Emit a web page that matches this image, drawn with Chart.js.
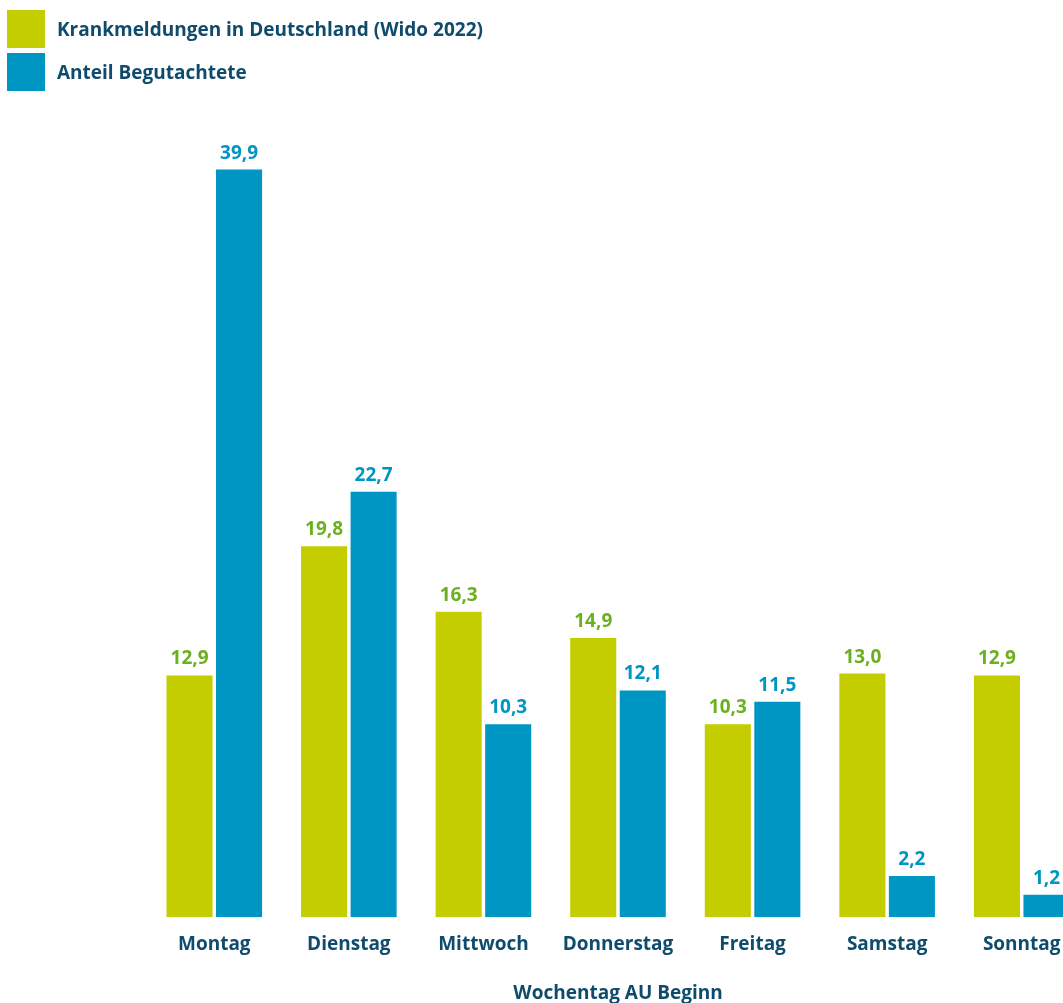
<!DOCTYPE html>
<html lang="de">
<head>
<meta charset="utf-8">
<title>Krankmeldungen nach Wochentag</title>
<script src="https://cdn.jsdelivr.net/npm/chart.js@4/dist/chart.umd.min.js"></script>
<style>
  html, body {
    margin: 0;
    padding: 0;
    background: #ffffff;
    overflow: hidden;
  }
  .wrap {
    position: relative;
    width: 1063px;
    height: 1003px;
    overflow: hidden;
  }
  #legend {
    position: absolute;
    left: 7px;
    top: 10px;
    font-family: 'Open Sans', sans-serif;
    font-weight: 700;
    font-size: 19px;
    color: #0f4b6c;
  }
  #legend .item {
    display: flex;
    align-items: center;
    height: 38px;
    margin-bottom: 5px;
  }
  #legend .swatch {
    width: 38px;
    height: 38px;
    margin-right: 12px;
  }
  #chart {
    position: absolute;
    left: 0;
    top: 0;
  }
</style>
</head>
<body>
<div class="wrap">
  <canvas id="chart" width="1089" height="1003"></canvas>
  <div id="legend"></div>
</div>
<script>
const weekdays = ['Montag', 'Dienstag', 'Mittwoch', 'Donnerstag', 'Freitag', 'Samstag', 'Sonntag'];
const krankmeldungen = [12.9, 19.8, 16.3, 14.9, 10.3, 13.0, 12.9];
const begutachtete = [39.9, 22.7, 10.3, 12.1, 11.5, 2.2, 1.2];
const seriesNames = ['Krankmeldungen in Deutschland (Wido 2022)', 'Anteil Begutachtete'];
const axisTitle = 'Wochentag AU Beginn';

const palette = {
  green: '#c3cd00',
  greenText: '#6cb01f',
  blue: '#0096c4',
  blueText: '#0096c4',
  text: '#0f4b6c',
};

const fontFamily = "'Open Sans', sans-serif";
const deFormatter = new Intl.NumberFormat('de-DE', { minimumFractionDigits: 1, maximumFractionDigits: 1 });

// value above each bar, in the series' text colour
const barValueLabels = {
  id: 'barValueLabels',
  afterDatasetsDraw(chart) {
    const { ctx } = chart;
    ctx.save();
    ctx.font = `700 19px ${fontFamily}`;
    ctx.textAlign = 'center';
    ctx.textBaseline = 'alphabetic';
    chart.data.datasets.forEach((dataset, di) => {
      const meta = chart.getDatasetMeta(di);
      ctx.fillStyle = dataset.labelColor;
      meta.data.forEach((bar, i) => {
        ctx.fillText(deFormatter.format(dataset.data[i]), bar.x, bar.y - 11);
      });
    });
    ctx.restore();
  },
};

const chart = new Chart(document.getElementById('chart'), {
  type: 'bar',
  data: {
    labels: weekdays,
    datasets: [
      {
        label: seriesNames[0],
        data: krankmeldungen,
        backgroundColor: palette.green,
        labelColor: palette.greenText,
      },
      {
        label: seriesNames[1],
        data: begutachtete,
        backgroundColor: palette.blue,
        labelColor: palette.blueText,
      },
    ],
  },
  options: {
    responsive: false,
    animation: false,
    categoryPercentage: 0.736,
    barPercentage: 0.93,
    layout: {
      padding: { left: 147, right: 0, top: 74, bottom: 0 },
    },
    plugins: {
      legend: { display: false },
      tooltip: { enabled: false },
    },
    scales: {
      x: {
        grid: { display: false, drawTicks: false },
        border: { display: false },
        ticks: {
          color: palette.text,
          padding: 16,
          font: { family: fontFamily, size: 19, weight: '700' },
        },
        title: {
          display: true,
          text: axisTitle,
          color: palette.text,
          padding: { top: 12, bottom: 0 },
          font: { family: fontFamily, size: 19, weight: '700', lineHeight: 1 },
        },
      },
      y: {
        display: false,
        min: 0,
        max: 45,
      },
    },
  },
  plugins: [barValueLabels],
});

// legend as plain markup, one row per series
const legendEl = document.getElementById('legend');
chart.data.datasets.forEach((dataset) => {
  const item = document.createElement('div');
  item.className = 'item';
  const swatch = document.createElement('span');
  swatch.className = 'swatch';
  swatch.style.background = dataset.backgroundColor;
  const label = document.createElement('span');
  label.textContent = dataset.label;
  item.appendChild(swatch);
  item.appendChild(label);
  legendEl.appendChild(item);
});
</script>
</body>
</html>
